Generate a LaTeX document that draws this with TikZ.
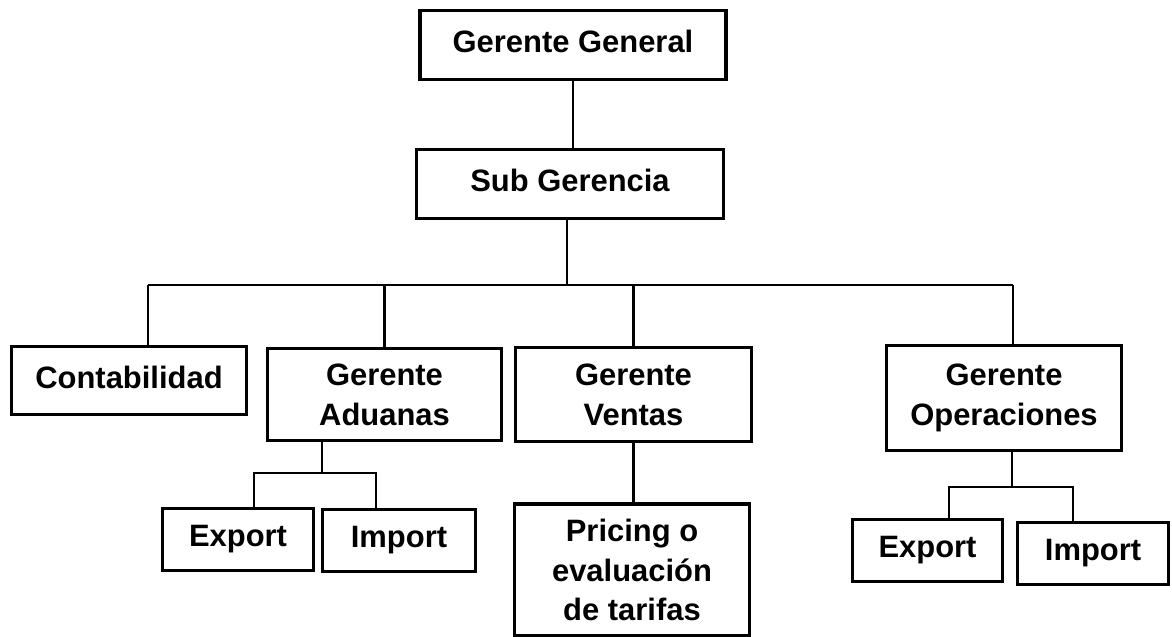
\documentclass[tikz,border=0pt]{standalone}
\usepackage{fontspec}
\setmainfont{Liberation Sans}
\usepackage{tikz}
\usepackage{xcolor}

\tikzset{
	caja/.style={draw, rectangle, line width=1.8pt, align=center, inner sep=0pt},
	alto/.style={text depth=0.4em},
	linea/.style={line width=1.6pt}
}

\begin{document}
\begin{tikzpicture}[font=\fontsize{17.6}{22.7}\selectfont\bfseries]
		\useasboundingbox (0,0) rectangle (23.44,-12.74);
		
		% Gerencia
		\node[caja, alto, minimum width=6.12cm, minimum height=1.38cm] (gg) at (11.46,-0.9) {Gerente General};
		\node[caja, alto, minimum width=6.14cm, minimum height=1.38cm] (sg) at (11.4,-3.68) {Sub Gerencia};
		
		% Departamentos
		\node[caja, alto, minimum width=4.7cm, minimum height=1.36cm] (cont) at (2.58,-7.61) {Contabilidad};
		\node[caja, minimum width=4.68cm, minimum height=1.84cm] (adu) at (7.69,-7.89) {Gerente\\Aduanas};
		\node[caja, minimum width=4.72cm, minimum height=1.88cm] (ven) at (12.67,-7.89) {Gerente\\Ventas};
		\node[caja, minimum width=4.7cm, minimum height=2.1cm] (ops) at (20.08,-7.96) {Gerente\\Operaciones};
		
		% Unterbereiche
		\node[caja, minimum width=3.02cm, minimum height=1.24cm] (aexp) at (4.76,-10.79) {Export};
		\node[caja, minimum width=3.06cm, minimum height=1.24cm] (aimp) at (7.98,-10.81) {Import};
		\node[caja, minimum width=4.7cm, minimum height=2.64cm] (pric) at (12.64,-11.4) {Pricing o\\evaluación\\de tarifas};
		\node[caja, minimum width=3.0cm, minimum height=1.24cm] (oexp) at (18.55,-11.01) {Export};
		\node[caja, minimum width=3.02cm, minimum height=1.24cm] (oimp) at (21.86,-11.07) {Import};
		
		% Verbindungen
		\coordinate (bus) at (11.34,-5.7);
		\coordinate (bl) at (2.96,-5.7);
		\coordinate (br) at (20.26,-5.7);
		\draw[linea] (gg.south) -- (gg.south |- sg.north);
		\draw[linea] (bus |- sg.south) -- (bus);
		\draw[linea] (bl) -- (br);
		\draw[linea] (bl) -- (bl |- cont.north);
		\draw[linea] (adu.north |- bus) -- (adu.north);
		\draw[linea] (ven.north |- bus) -- (ven.north);
		\draw[linea] (br) -- (br |- ops.north);
		
		\coordinate (am) at (6.44,-9.46);
		\coordinate (a1) at (5.08,-9.46);
		\coordinate (a2) at (7.52,-9.46);
		\draw[linea] (am |- adu.south) -- (am);
		\draw[linea] (a1 |- aexp.north) -- (a1) -- (a2) -- (a2 |- aimp.north);
		
		\draw[linea] (ven.south) -- (ven.south |- pric.north);
		
		\coordinate (om) at (20.24,-9.74);
		\coordinate (o1) at (18.98,-9.74);
		\coordinate (o2) at (21.46,-9.74);
		\draw[linea] (om |- ops.south) -- (om);
		\draw[linea] (o1 |- oexp.north) -- (o1) -- (o2) -- (o2 |- oimp.north);
		
	\end{tikzpicture}
\end{document}
